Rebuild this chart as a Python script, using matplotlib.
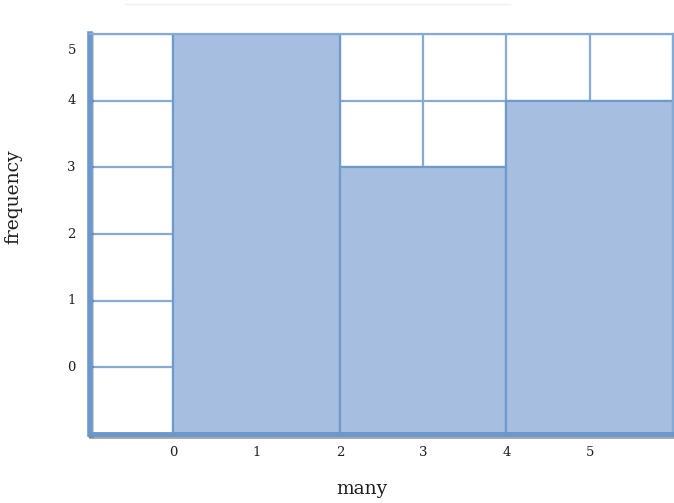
import matplotlib
matplotlib.use("Agg")
import matplotlib.pyplot as plt
import matplotlib.patheffects as pe

bin_left = [0, 2, 4]
bin_width = [2, 2, 2]
freq = [5, 3, 4]
xticks = [0, 1, 2, 3, 4, 5]
yticks = [0, 1, 2, 3, 4]
y_bottom = -1

fill = "#A6BEDF"
edge = "#6F9BCB"
gridc = "#86AAD6"
textc = "#1E1E1E"

fig = plt.figure(figsize=(6.74, 5.03), dpi=100)
ax = fig.add_axes([90/674, 1-434/503, (673-90)/674, (434-34)/503])
ax.set_xlim(-1, 6)
ax.set_ylim(-1, 5)

ax.set_xticks(range(-1, 7))
ax.set_yticks(range(-1, 6))
ax.grid(True, color=gridc, linewidth=1.6)
ax.set_axisbelow(True)

ax.bar(bin_left, [f - y_bottom for f in freq], width=bin_width, bottom=y_bottom,
       align="edge", color=fill, edgecolor=edge, linewidth=1.6, zorder=2)

ax.tick_params(length=0, labelbottom=False, labelleft=False)
for x in xticks:
    ax.text(x, -1.27, str(x), ha="center", va="center", fontsize=9.5,
            family="DejaVu Serif", color=textc, clip_on=False)
for y in yticks:
    ax.text(-1.22, y, str(y), ha="center", va="center", fontsize=9.5,
            family="DejaVu Serif", color=textc, clip_on=False)
ax.text(-1.22, 4.75, "5", ha="center", va="center", fontsize=9.5,
        family="DejaVu Serif", color=textc, clip_on=False)

fig.text(362/674, 1-489/503, "many", ha="center", va="center", fontsize=13.5,
         family="DejaVu Serif", color=textc)
fig.text(13/674, 1-197/503, "frequency", ha="center", va="center", rotation=90,
         fontsize=13.5, family="DejaVu Serif", color=textc)

for s in ["top", "right"]:
    ax.spines[s].set_color(gridc)
    ax.spines[s].set_linewidth(1.6)
ax.spines["left"].set_color("#6A98CC")
ax.spines["left"].set_linewidth(4)
ax.spines["bottom"].set_color("#6A98CC")
ax.spines["bottom"].set_linewidth(3.5)
ax.spines["bottom"].set_path_effects([pe.SimpleLineShadow(offset=(1, -1.5), alpha=0.35), pe.Normal()])
ax.spines["left"].set_path_effects([pe.SimpleLineShadow(offset=(1, -1), alpha=0.25), pe.Normal()])

fig.add_artist(plt.Line2D([125/674, 510/674], [1-4/503, 1-4/503], color="#F0F0F0", linewidth=1))

fig.savefig("out.png", dpi=100)
